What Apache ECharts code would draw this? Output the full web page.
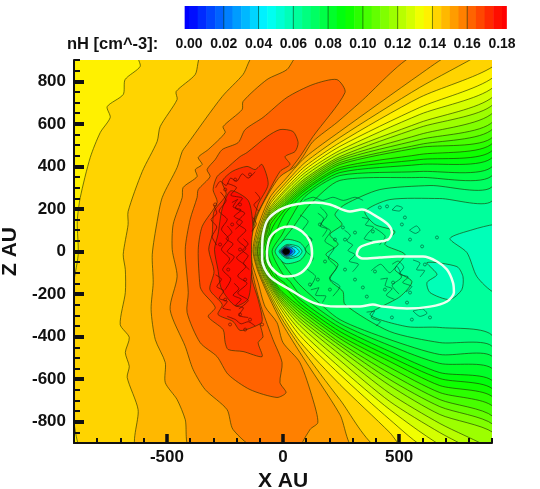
<!DOCTYPE html>
<html>
<head>
<meta charset="utf-8">
<style>
	html, body { margin: 0; padding: 0; background: #fff; }
	#chart { width: 540px; height: 489px; filter: blur(0.6px); }
</style>
<script src="https://cdn.jsdelivr.net/npm/echarts@6/dist/echarts.min.js"></script>
</head>
<body>
<div id="chart"></div>
<script>
// tick values
var xMajor = [-500, 0, 500];
var xMinor = [-900, -800, -700, -600, -400, -300, -200, -100, 100, 200, 300, 400, 600, 700, 800, 900];
var zMajor = [-800, -600, -400, -200, 0, 200, 400, 600, 800];
var zMinor = [-900, -850, -750, -700, -650, -550, -500, -450, -350, -300, -250, -150, -100, -50, 50, 100, 150, 250, 300, 350, 450, 500, 550, 650, 700, 750, 850, 900];
var barTicks = [0, 0.02, 0.04, 0.06, 0.08, 0.1, 0.12, 0.14, 0.16, 0.18];
var barLevels = [-0.0025, 0, 0.005, 0.01, 0.015, 0.02, 0.025, 0.03, 0.035, 0.04, 0.045, 0.05, 0.055, 0.06, 0.065, 0.07, 0.075, 0.08, 0.085, 0.09, 0.095, 0.1, 0.105, 0.11, 0.115, 0.12, 0.125, 0.13, 0.135, 0.14, 0.145, 0.15, 0.155, 0.16, 0.165, 0.17, 0.175, 0.18, 0.1825];

// nH contours, [X AU, Z AU]. High side, left of the bow
var base135 = [[-1100,1100],[-1100,-1100],[1100,-1100],[1100,1100]];
var high140 = [[-624,926],[-615,870],[-680,808],[-688,738],[-757,681],[-744,630],[-787,559],[-830,442],[-873,254],[-886,141],[-882,-14],[-905,-180],[-910,-695],[-890,-870],[-865,-930]];
var high145 = [[-348,926],[-378,832],[-460,752],[-456,714],[-529,587],[-542,517],[-606,376],[-667,188],[-667,127],[-688,-14],[-679,-85],[-679,-193],[-701,-343],[-662,-404],[-679,-475],[-662,-540],[-671,-592],[-624,-743],[-624,-930]];
var high150 = [[-120,926],[-172,832],[-262,728],[-413,503],[-434,470],[-456,395],[-520,254],[-542,141],[-563,-14],[-559,-146],[-568,-273],[-550,-414],[-507,-522],[-507,-616],[-456,-696],[-421,-790],[-396,-930]];
var high155 = [[69,926],[17,855],[-69,808],[-172,705],[-176,667],[-258,587],[-249,559],[-322,479],[-365,442],[-348,409],[-378,385],[-370,352],[-430,301],[-434,254],[-473,127],[-477,9],[-456,-118],[-486,-273],[-421,-446],[-387,-555],[-335,-649],[-241,-743],[-215,-837],[-107,-930]];
var high160 = [[232,808],[267,747],[129,540],[73,446],[-34,291],[-120,150],[-146,9],[-125,-132],[-90,-273],[-43,-414],[-4,-522],[-13,-616],[13,-663],[-26,-686],[-142,-649],[-236,-578],[-284,-494],[-357,-428],[-413,-287],[-408,-193],[-421,9],[-400,150],[-370,254],[-365,291],[-314,352],[-327,385],[-292,432],[-262,479],[-193,512],[-163,573],[-86,630],[17,724],[129,785]];
var high165 = [[-13,573],[43,564],[65,512],[52,470],[9,446],[30,409],[-13,376],[-90,221],[-133,127],[-150,0],[-150,-132],[-120,-273],[-86,-400],[-107,-428],[-90,-494],[-172,-470],[-236,-461],[-249,-428],[-258,-367],[-322,-306],[-292,-263],[-344,-193],[-357,-165],[-365,9],[-348,118],[-284,230],[-301,291],[-284,352],[-249,385],[-185,446],[-155,465],[-69,540]];
var high170 = [[-90,409],[-120,385],[-155,400],[-219,376],[-262,329],[-245,268],[-297,188],[-305,80],[-320,9],[-297,-94],[-315,-179],[-262,-249],[-280,-296],[-215,-329],[-185,-371],[-133,-357],[-90,-329],[-107,-226],[-133,-132],[-142,-14],[-133,103],[-107,221],[-64,315]];
var high175 = [[-225,285],[-262,200],[-280,80],[-295,9],[-280,-85],[-265,-175],[-205,-255],[-150,-222],[-135,-85],[-135,9],[-130,127],[-150,240]];

// low side, fan lines round the bow into the wake
var low155 = [[568,926],[331,700],[232,606],[129,517],[86,446],[52,399],[-13,352],[-69,259],[-112,165],[-133,70],[-133,-52],[-107,-146],[-77,-259],[-26,-334],[0,-428],[73,-522],[129,-696],[150,-804],[116,-837],[82,-930]];
var low150 = [[719,926],[589,832],[245,564],[95,442],[9,338],[-56,254],[-112,103],[-129,0],[-103,-108],[-13,-320],[73,-475],[245,-766],[310,-930]];
var low145 = [[847,926],[589,771],[245,536],[95,418],[9,320],[-56,235],[-105,103],[-125,0],[-99,-108],[-13,-301],[73,-446],[245,-696],[417,-930]];
var low140 = [[905,870],[589,724],[245,512],[95,400],[9,306],[-56,221],[-99,103],[-120,0],[-95,-108],[-13,-282],[73,-423],[245,-625],[460,-851],[525,-930]];
var low135 = [[905,818],[589,677],[245,494],[95,385],[9,291],[-56,207],[-95,103],[-116,0],[-90,-108],[-13,-263],[73,-395],[245,-578],[460,-790],[624,-930]];
var low130 = [[905,771],[589,644],[245,475],[95,371],[9,282],[-56,197],[-90,103],[-112,0],[-86,-108],[-13,-249],[73,-371],[245,-545],[460,-743],[710,-930]];
var low125 = [[905,728],[589,606],[245,461],[95,357],[9,268],[-56,188],[-86,103],[-110,0],[-82,-108],[-13,-235],[73,-348],[245,-512],[460,-705],[675,-851],[813,-930]];
var low120 = [[905,691],[589,583],[245,446],[95,343],[9,258],[-56,179],[-82,103],[-108,0],[-77,-108],[-13,-226],[73,-329],[245,-484],[460,-667],[675,-808],[900,-930]];
var low115 = [[905,653],[589,550],[245,437],[95,334],[9,249],[-56,169],[-77,103],[-103,0],[-73,-108],[-13,-216],[73,-315],[245,-461],[460,-630],[675,-766],[905,-851]];
var low110 = [[905,611],[589,526],[245,428],[95,324],[9,240],[-56,160],[-73,103],[-99,0],[-69,-108],[-13,-207],[73,-301],[245,-442],[460,-602],[675,-729],[905,-813]];
var low105 = [[905,578],[589,503],[245,418],[95,315],[9,230],[-56,150],[-69,103],[-95,0],[-65,-108],[-13,-197],[73,-287],[245,-428],[460,-573],[675,-696],[905,-776]];
var low100 = [[905,540],[589,489],[245,409],[95,306],[9,221],[-56,141],[-65,103],[-90,0],[-60,-108],[-13,-188],[73,-273],[245,-409],[460,-545],[675,-663],[905,-729]];
var low095 = [[905,512],[589,456],[245,395],[95,296],[9,212],[-52,132],[-60,94],[-86,0],[-52,-108],[-13,-179],[73,-259],[245,-395],[460,-517],[675,-630],[905,-686]];
var low090 = [[905,479],[589,432],[245,385],[95,287],[9,197],[-43,118],[-77,0],[-43,-108],[9,-169],[73,-244],[245,-376],[460,-494],[675,-597],[905,-649]];
var low085 = [[905,446],[589,409],[245,371],[95,273],[9,179],[-30,94],[-65,0],[-26,-118],[9,-150],[73,-226],[245,-357],[460,-470],[675,-569],[905,-611]];
var low080 = [[905,404],[589,376],[245,357],[95,259],[30,150],[-4,80],[-47,0],[0,-108],[30,-141],[73,-202],[245,-338],[460,-442],[675,-526],[905,-555]];
var low075 = [[905,362],[589,348],[245,334],[116,221],[52,127],[-22,0],[52,-132],[116,-202],[245,-320],[460,-414],[675,-484],[905,-498]];
var low070 = [[905,310],[633,310],[417,291],[267,221],[224,174],[254,127],[202,80],[237,33],[185,-14],[237,-61],[202,-132],[258,-188],[267,-249],[460,-376],[675,-428],[905,-451]];
var low065 = [[905,244],[675,249],[460,244],[353,188],[396,127],[482,94],[439,33],[525,-14],[482,-85],[555,-141],[504,-212],[375,-296],[534,-353],[675,-357],[905,-400]];

// closed pockets
var wedge060 = [[910,127],[818,103],[719,61],[792,-5],[835,-118],[910,-193],[1000,-193],[1000,127]];
var pocket060 = [[620,-52],[749,-71],[775,-118],[770,-179],[719,-226],[633,-193],[620,-146],[663,-108]];
var sun065 = [[-34,0],[9,56],[73,42],[99,0],[73,-42],[9,-56]];
var sun055 = [[-17,0],[17,33],[65,24],[82,0],[65,-24],[17,-33]];
var sun045 = [[-13,0],[13,28],[52,20],[70,0],[52,-20],[13,-28]];
var sun030 = [[-10,0],[13,23],[39,17],[52,0],[39,-17],[13,-23]];
var sun010 = [[-8,0],[9,20],[30,14],[40,0],[30,-14],[9,-20]];
var sunCore = [[-4,0],[9,16],[26,10],[30,0],[26,-10],[9,-16]];

// white curves
var outerWhite = [[-90,0],[-86,80],[-65,150],[-13,197],[52,221],[138,230],[202,221],[288,188],[340,197],[404,164],[452,127],[469,89],[452,56],[387,42],[331,19],[318,-14],[344,-33],[417,-28],[491,-24],[603,-24],[663,-47],[706,-85],[732,-146],[736,-193],[706,-235],[633,-259],[534,-268],[430,-259],[387,-249],[331,-259],[275,-259],[232,-259],[129,-240],[30,-179],[-56,-118],[-90,-38],[-90,0]];
var innerWhite = [[-69,0],[-56,66],[-13,108],[30,118],[82,94],[116,47],[125,-9],[108,-66],[65,-108],[9,-118],[-34,-94],[-65,-47],[-69,0]];

// noisy little contours
var wiggleWake = [
	[[73,172],[108,141],[82,94],[125,56],[95,9],[130,-33],[100,-75],[140,-118],[118,-165]],
	[[160,210],[190,170],[165,130],[205,95],[180,50],[220,15],[195,-30],[230,-75],[200,-125],[245,-165],[215,-210]],
	[[380,-90],[420,-60],[460,-100],[490,-70],[510,-120],[470,-160],[500,-200]],
	[[395,110],[440,70],[415,30]],
	[[265,100],[290,75],[275,50],[300,30],[280,5],[310,-15],[285,-45],[325,-60],[300,-95]],
	[[150,180],[175,155],[160,120],[190,105],[170,70]],
	[[120,-180],[155,-170],[140,-205],[185,-210],[170,-240]],
	[[340,160],[370,150],[355,125],[390,115],[365,85],[350,60],[385,50]],
	[[470,-60],[495,-45],[520,-75],[500,-105],[540,-120],[515,-145],[555,-165],[530,-190]],
	[[420,-130],[450,-125],[440,-160],[470,-175],[445,-205],[480,-225]],
	[[560,-40],[590,-55],[575,-85],[610,-90],[590,-120]],
	[[545,100],[570,85],[590,100],[575,120],[545,100]],
	[[470,195],[500,190],[515,205],[490,215],[470,195]],
	[[560,-280],[600,-270],[620,-290],[590,-305],[560,-280]],
	[[360,-285],[395,-280],[380,-310],[420,-330],[400,-350]],
	[[90,240],[130,255],[170,240],[215,255],[260,240],[310,255],[345,240]]
];
var wiggleCore = [
	[[-240,320],[-200,300],[-225,265],[-175,250],[-205,205],[-165,180],[-200,135],[-160,100],[-195,55],[-160,15],[-200,-30],[-160,-70],[-195,-115],[-155,-150],[-195,-195],[-150,-230],[-190,-270]],
	[[-270,280],[-245,240],[-275,190],[-240,150],[-265,105],[-235,60],[-265,10],[-230,-35],[-260,-85],[-225,-130],[-250,-180]],
	[[-290,300],[-270,330],[-245,310],[-225,345],[-200,330],[-175,365],[-150,345],[-120,375]],
	[[-300,220],[-285,180],[-310,150],[-285,115],[-305,70],[-285,30]],
	[[-220,230],[-195,245],[-215,210],[-180,195],[-210,165],[-175,140],[-205,105]],
	[[-240,120],[-220,90],[-245,60],[-215,35],[-240,0],[-210,-25],[-235,-60]],
	[[-170,60],[-150,35],[-175,5],[-150,-20],[-170,-55],[-145,-85]],
	[[-290,-110],[-265,-130],[-285,-165],[-255,-185],[-275,-220],[-240,-235],[-260,-265],[-225,-275]],
	[[-210,-150],[-190,-175],[-215,-205],[-180,-225],[-205,-255],[-170,-265],[-190,-300],[-150,-310]],
	[[-240,-305],[-205,-320],[-180,-340],[-150,-330],[-120,-350]],
	[[-130,160],[-115,130],[-135,95]],
	[[-120,280],[-100,250],[-125,220],[-105,190]]
];
var specksWake = [[417,207],[448,212],[525,160],[512,127],[547,56],[663,66],[599,24],[611,-61],[474,-146],[547,-193],[534,-240],[344,-169],[361,-212],[258,113],[224,56],[387,94],[267,56],[310,89],[159,127],[116,56],[181,-47],[150,-132],[202,-179],[116,-155],[267,-85],[310,-132],[396,-94],[439,-179],[633,-310],[555,-320],[469,-310]];
var specksCore = [[-249,291],[-206,338],[-142,362],[-292,221],[-185,221],[-219,127],[-271,33],[-185,9],[-236,-85],[-163,-132],[-249,-226],[-185,-296],[-228,-343],[-142,-320],[-90,-343],[-163,-367]];

// painted in this order. band = lower edge of the colour band the shape is filled with
var outside = [[1100,-1100],[1100,1100]];
var contours = [
	{ band: 0.135, pts: base135 },
	{ band: 0.14, pts: high140.concat(outside) },
	{ band: 0.145, pts: high145.concat(outside) },
	{ band: 0.15, pts: high150.concat(outside) },
	{ band: 0.155, pts: high155.concat(outside) },
	{ band: 0.16, pts: high160 },
	{ band: 0.165, pts: high165 },
	{ band: 0.17, pts: high170 },
	{ band: 0.175, pts: high175 },
	{ band: 0.15, pts: low155.concat(outside) },
	{ band: 0.145, pts: low150.concat(outside) },
	{ band: 0.14, pts: low145.concat(outside) },
	{ band: 0.135, pts: low140.concat(outside) },
	{ band: 0.13, pts: low135.concat(outside) },
	{ band: 0.125, pts: low130.concat(outside) },
	{ band: 0.12, pts: low125.concat(outside) },
	{ band: 0.115, pts: low120.concat(outside) },
	{ band: 0.11, pts: low115.concat(outside) },
	{ band: 0.105, pts: low110.concat(outside) },
	{ band: 0.1, pts: low105.concat(outside) },
	{ band: 0.095, pts: low100.concat(outside) },
	{ band: 0.09, pts: low095.concat(outside) },
	{ band: 0.085, pts: low090.concat(outside) },
	{ band: 0.08, pts: low085.concat(outside) },
	{ band: 0.075, pts: low080.concat(outside) },
	{ band: 0.07, pts: low075.concat(outside) },
	{ band: 0.065, pts: low070.concat(outside) },
	{ band: 0.06, pts: low065.concat(outside) },
	{ band: 0.055, pts: wedge060 },
	{ band: 0.055, pts: pocket060 },
	{ band: 0.06, pts: sun065 },
	{ band: 0.05, pts: sun055 },
	{ band: 0.04, pts: sun045 },
	{ band: 0.025, pts: sun030 },
	{ band: 0.005, pts: sun010 },
	{ band: -0.01, pts: sunCore }
];

var stops = [
	[0, [0, 0, 255]],
	[0.045, [0, 255, 255]],
	[0.09, [0, 255, 0]],
	[0.135, [255, 255, 0]],
	[0.18, [255, 0, 0]]
];

function bandColor(lo) {
	if (lo < -0.005) return '#000';
	var v = Math.min(Math.max(lo + 0.0025, 0), 0.18);
	for (var i = 0; i < stops.length - 1; i++) {
		if (v <= stops[i + 1][0]) {
			var t = (v - stops[i][0]) / (stops[i + 1][0] - stops[i][0]);
			var a = stops[i][1], b = stops[i + 1][1];
			return 'rgb(' + [0, 1, 2].map(function (k) { return Math.round(a[k] + (b[k] - a[k]) * t); }).join(',') + ')';
		}
	}
}

function whiteLine(pts) {
	return {
		type: 'line', data: pts, showSymbol: false, smooth: 0.3, z: 8, silent: true, clip: true,
		lineStyle: { color: '#eefff0', width: 2.5 }
	};
}

function wiggleLine(pts, color) {
	return {
		type: 'line', data: pts, showSymbol: false, smooth: 0.25, z: 6, silent: true,
		lineStyle: { color: color, width: 1 }
	};
}

function speckSeries(pts, color) {
	return {
		type: 'scatter', data: pts, symbolSize: 3, z: 6, silent: true,
		itemStyle: { color: 'rgba(0,0,0,0)', borderColor: color, borderWidth: 1 }
	};
}

var series = [{
	type: 'custom',
	xAxisIndex: 0,
	yAxisIndex: 0,
	clip: true,
	silent: true,
	z: 3,
	data: contours.map(function (c, i) { return [i]; }),
	encode: { x: [], y: [] },
	renderItem: function (params, api) {
		var c = contours[params.dataIndex];
		return {
			type: 'polygon',
			shape: { points: c.pts.map(function (p) { return api.coord(p); }), smooth: 0.25 },
			style: { fill: bandColor(c.band), stroke: 'rgba(30,50,0,0.62)', lineWidth: 1 }
		};
	}
}, {
	type: 'custom',
	xAxisIndex: 2,
	yAxisIndex: 2,
	clip: false,
	silent: true,
	data: barLevels.slice(0, -1).map(function (v) { return [v]; }),
	renderItem: function (params, api) {
		var lo = barLevels[params.dataIndex];
		var a = api.coord([lo, 1]), b = api.coord([barLevels[params.dataIndex + 1], 0]);
		return {
			type: 'rect',
			shape: { x: a[0], y: a[1], width: b[0] - a[0] + 0.5, height: b[1] - a[1] },
			style: { fill: bandColor(lo) }
		};
	}
}, {
	type: 'custom',
	xAxisIndex: 2,
	yAxisIndex: 2,
	clip: false,
	silent: true,
	z: 3,
	data: barTicks.slice(1, -1).map(function (v) { return [v]; }),
	renderItem: function (params, api) {
		var a = api.coord([barTicks[params.dataIndex + 1], 1]), b = api.coord([barTicks[params.dataIndex + 1], 0]);
		return {
			type: 'line',
			shape: { x1: a[0], y1: a[1], x2: b[0], y2: b[1] },
			style: { stroke: 'rgba(0,40,0,0.55)', lineWidth: 1 }
		};
	}
}];

wiggleWake.forEach(function (w) { series.push(wiggleLine(w, 'rgba(0,70,40,0.6)')); });
wiggleCore.forEach(function (w) { series.push(wiggleLine(w, 'rgba(90,10,0,0.7)')); });
series.push(speckSeries(specksWake, 'rgba(0,70,40,0.7)'));
series.push(speckSeries(specksCore, 'rgba(90,10,0,0.75)'));
series.push(whiteLine(outerWhite));
series.push(whiteLine(innerWhite));

var nameFont = { fontSize: 21, fontFamily: 'Liberation Sans', fontWeight: 'bold', color: '#111' };

var option = {
	animation: false,
	backgroundColor: '#fff',
	title: {
		text: 'nH [cm^-3]:',
		left: 67,
		top: 36,
		padding: 0,
		textStyle: { fontFamily: 'Liberation Sans', fontWeight: 'bold', fontSize: 16.5, color: '#111' }
	},
	grid: [
		{ left: 74, top: 60, width: 418, height: 383, outerBoundsMode: 'none' },
		{ left: 74, top: 60, width: 418, height: 383, outerBoundsMode: 'none' },
		{ left: 189, top: 6, width: 313, height: 23, outerBoundsMode: 'none' }
	],
	xAxis: [{
		type: 'value', gridIndex: 0, min: -900, max: 900, z: 10,
		name: 'X AU', nameLocation: 'center', nameGap: 22,
		nameTextStyle: nameFont,
		splitLine: { show: false },
		axisLine: { onZero: false, lineStyle: { color: '#111', width: 2 } },
		axisTick: { inside: true, length: 9, customValues: xMajor, lineStyle: { color: '#111', width: 3.5 } },
		axisLabel: { customValues: xMajor, margin: 6, fontSize: 17, fontFamily: 'Liberation Sans', fontWeight: 'bold', color: '#111' }
	}, {
		type: 'value', gridIndex: 1, min: -900, max: 900, z: 10,
		splitLine: { show: false },
		axisLine: { show: false, onZero: false },
		axisLabel: { show: false },
		axisTick: { inside: true, length: 5, customValues: xMinor, lineStyle: { color: '#111', width: 2 } }
	}, {
		type: 'value', gridIndex: 2, min: 0, max: 0.18, interval: 0.02,
		splitLine: { show: false },
		axisLine: { show: false, onZero: false },
		axisTick: { show: false },
		axisLabel: {
			margin: 8, fontSize: 14, fontFamily: 'Liberation Sans', fontWeight: 'bold', color: '#111',
			hideOverlap: false,
			formatter: function (v) { return v.toFixed(2); }
		}
	}],
	yAxis: [{
		type: 'value', gridIndex: 0, min: -900, max: 900, z: 10,
		name: 'Z AU', nameLocation: 'center', nameGap: 38, nameRotate: 90,
		nameTextStyle: nameFont,
		splitLine: { show: false },
		axisLine: { onZero: false, lineStyle: { color: '#111', width: 2 } },
		axisTick: { inside: true, length: 10, customValues: zMajor, lineStyle: { color: '#111', width: 4 } },
		axisLabel: { customValues: zMajor, margin: 8, fontSize: 17, fontFamily: 'Liberation Sans', fontWeight: 'bold', color: '#111' }
	}, {
		type: 'value', gridIndex: 1, min: -900, max: 900, z: 10,
		splitLine: { show: false },
		axisLine: { show: false, onZero: false },
		axisLabel: { show: false },
		axisTick: { inside: true, length: 6, customValues: zMinor, lineStyle: { color: '#111', width: 2 } }
	}, {
		type: 'value', gridIndex: 2, min: 0, max: 1, show: false
	}],
	series: series
};

var chart = echarts.init(document.getElementById('chart'), null, { renderer: 'canvas' });
chart.setOption(option);
window.addEventListener('resize', function () {
	chart.resize();
});
</script>
</body>
</html>
